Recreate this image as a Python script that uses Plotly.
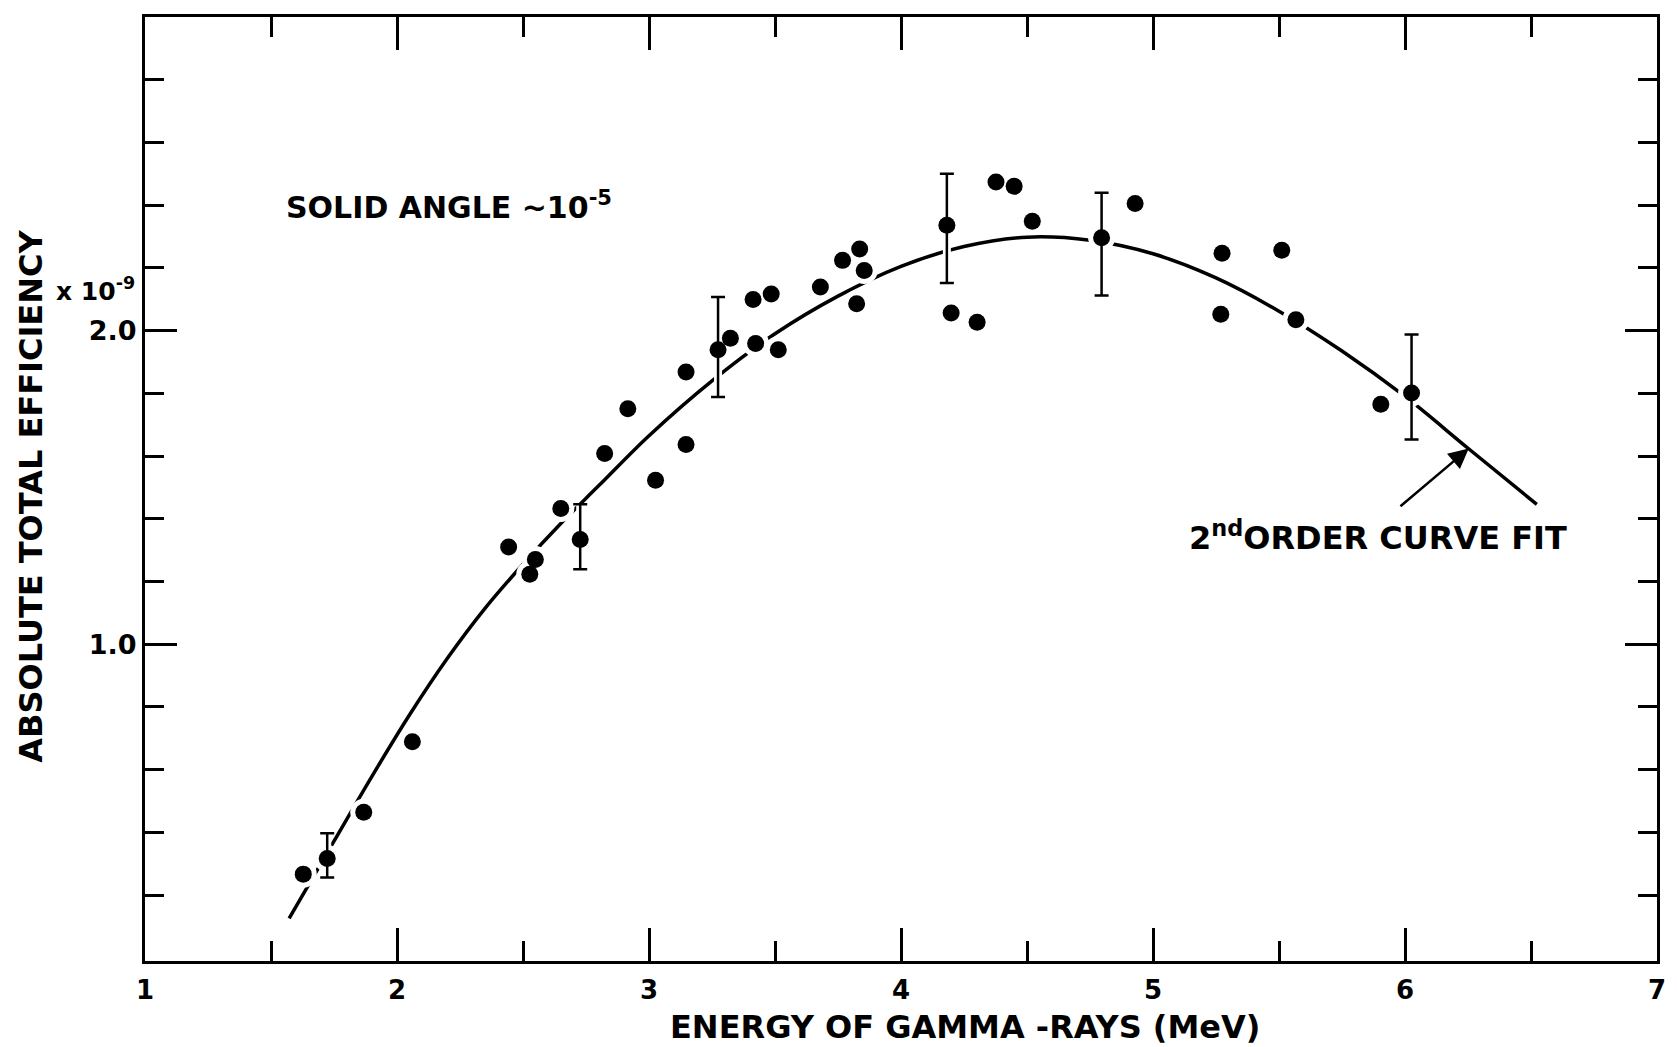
import plotly.graph_objects as go

# ---- data ----
energy = [1.628, 1.868, 2.061, 2.443, 2.527, 2.549, 2.650, 2.824, 2.916, 3.026,
          3.147, 3.147, 3.323, 3.413, 3.423, 3.485, 3.513, 3.680, 3.768, 3.824,
          3.836, 3.854, 4.199, 4.302, 4.377, 4.449, 4.521, 4.929, 5.269, 5.274,
          5.511, 5.567, 5.904]
efficiency = [0.267, 0.464, 0.689, 1.310, 1.223, 1.270, 1.433, 1.608, 1.751, 1.523,
              1.868, 1.637, 1.976, 2.099, 1.959, 2.117, 1.939, 2.139, 2.224, 2.086,
              2.260, 2.192, 2.056, 2.027, 2.474, 2.460, 2.349, 2.405, 2.052, 2.247,
              2.256, 2.035, 1.765]

err_energy = [1.723, 2.727, 3.274, 4.182, 4.796, 6.026]
err_eff = [0.317, 1.334, 1.939, 2.336, 2.296, 1.801]
err_top = [0.397, 1.446, 2.107, 2.500, 2.440, 1.988]
err_bottom = [0.256, 1.239, 1.788, 2.152, 2.112, 1.653]

fit_energy = [1.572, 1.75, 1.90, 2.05, 2.20, 2.35, 2.50, 2.65, 2.80, 3.00, 3.25,
              3.50, 3.75, 4.00, 4.25, 4.50, 4.75, 5.00, 5.25, 5.50, 5.75, 6.00,
              6.25, 6.523]
fit_eff = [0.126, 0.372, 0.578, 0.775, 0.955, 1.115, 1.255, 1.385, 1.505, 1.665,
           1.840, 1.990, 2.110, 2.205, 2.268, 2.298, 2.288, 2.245, 2.168, 2.062,
           1.935, 1.790, 1.625, 1.446]

x_ticks = [1, 2, 3, 4, 5, 6, 7]
x_minor = [1.5, 2.5, 3.5, 4.5, 5.5, 6.5]
y_ticks = [1.0, 2.0]
y_ticktext = ["1.0", "2.0"]
y_minor = [0.2, 0.4, 0.6, 0.8, 1.2, 1.4, 1.6, 1.8, 2.2, 2.4, 2.6, 2.8]

err_plus = [t - v for t, v in zip(err_top, err_eff)]
err_minus = [v - b for v, b in zip(err_eff, err_bottom)]

FONT = "DejaVu Sans"


def f(size):
    return dict(family=FONT, size=size, color="black", weight="bold")


fig = go.Figure()

# fitted curve
fig.add_trace(go.Scatter(x=fit_energy, y=fit_eff, mode="lines",
                         line=dict(color="black", width=3.5, shape="spline"),
                         hoverinfo="skip", showlegend=False))
# white halos (create the gaps in the curve)
fig.add_trace(go.Scatter(x=energy + err_energy, y=efficiency + err_eff, mode="markers",
                         marker=dict(color="white", size=27),
                         hoverinfo="skip", showlegend=False))
fig.add_trace(go.Scatter(x=err_energy, y=err_eff, mode="markers",
                         marker=dict(color="white", size=1, opacity=0),
                         error_y=dict(type="data", symmetric=False, array=err_plus,
                                      arrayminus=err_minus, color="white",
                                      thickness=8, width=0),
                         hoverinfo="skip", showlegend=False))
# data points
fig.add_trace(go.Scatter(x=energy, y=efficiency, mode="markers",
                         marker=dict(color="black", size=17),
                         showlegend=False))
fig.add_trace(go.Scatter(x=err_energy, y=err_eff, mode="markers",
                         marker=dict(color="black", size=17),
                         error_y=dict(type="data", symmetric=False, array=err_plus,
                                      arrayminus=err_minus, color="black",
                                      thickness=2.5, width=7),
                         showlegend=False))

axis_common = dict(showgrid=False, zeroline=False, showline=True, linecolor="black",
                   linewidth=3, mirror="ticks", ticks="inside", tickcolor="black",
                   tickwidth=2.5)

fig.update_xaxes(range=[1, 7], tickmode="array", tickvals=x_ticks,
                 ticktext=[str(v) for v in x_ticks], ticklen=33,
                 tickfont=f(26), ticklabelstandoff=4,
                 minor=dict(tickmode="array", tickvals=x_minor, ticklen=20,
                            tickwidth=2.5, tickcolor="black", ticks="inside"),
                 **axis_common)
fig.update_yaxes(range=[-0.01, 3.0], tickmode="array", tickvals=y_ticks,
                 ticktext=y_ticktext, ticklen=32, tickfont=f(27),
                 minor=dict(tickmode="array", tickvals=y_minor, ticklen=19,
                            tickwidth=2.5, tickcolor="black", ticks="inside"),
                 **axis_common)

fig.update_layout(
    width=1677, height=1047, autosize=False,
    margin=dict(l=145, r=11, t=17, b=86),
    paper_bgcolor="white", plot_bgcolor="white",
    font=dict(family=FONT, color="black"),
    annotations=[
        dict(text="ENERGY OF GAMMA -RAYS (MeV)", xref="paper", yref="paper",
             x=0.5424, y=-0.0699, xanchor="center", yanchor="middle",
             showarrow=False, font=f(32)),
        dict(text="ABSOLUTE TOTAL EFFICIENCY", xref="paper", yref="paper",
             x=-0.0756, y=0.4926, xanchor="center", yanchor="middle", textangle=-90,
             showarrow=False, font=f(32)),
        dict(text="x 10<sup>-9</sup>", xref="paper", yref="paper",
             x=-0.0053, y=0.711, xanchor="right", yanchor="middle",
             showarrow=False, font=f(25)),
        dict(text="SOLID ANGLE ~10<sup>-5</sup>", xref="x", yref="y",
             x=1.552, y=2.399, xanchor="left", yanchor="middle",
             showarrow=False, font=f(30)),
        dict(text="2<sup>nd</sup>ORDER CURVE FIT", xref="x", yref="y",
             x=5.134, y=1.344, xanchor="left", yanchor="middle",
             showarrow=False, font=f(32)),
        dict(text="", xref="x", yref="y", x=6.253, y=1.624,
             axref="x", ayref="y", ax=5.976, ay=1.436,
             showarrow=True, arrowhead=2, arrowsize=1.6, arrowwidth=2.5,
             arrowcolor="black", standoff=0),
    ],
)

fig.write_html("out.html")
